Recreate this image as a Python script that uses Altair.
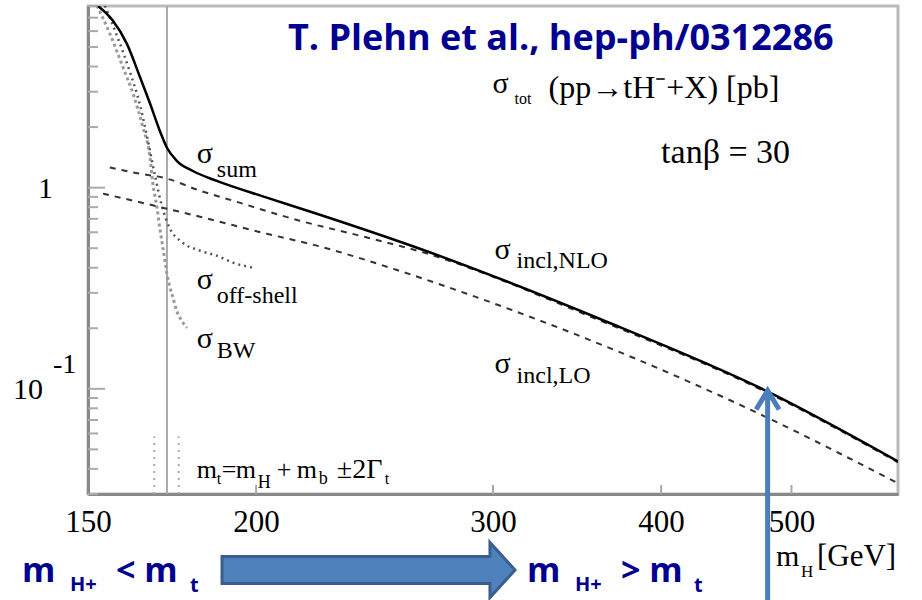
import altair as alt
import pandas as pd

# ---------------- data ----------------
mh_sum = [152.6, 156.5, 160.3, 164.0, 166.8, 169.6, 171.7, 174.6, 179.5, 187.0, 203.7, 221.9, 264.7, 360.0, 478.9, 600.0]
sig_sum = [8.0, 6.77, 5.20, 3.53, 2.62, 1.92, 1.58, 1.36, 1.21, 1.08, 0.892, 0.742, 0.497, 0.223, 0.0977, 0.0436]

mh_nlo = [155.7, 162.0, 171.7, 181.7, 192.2, 215.5, 238.8, 264.7, 360.0, 478.9, 600.0]
sig_nlo = [1.26, 1.19, 1.109, 0.966, 0.862, 0.685, 0.577, 0.482, 0.219, 0.0963, 0.0431]

mh_lo = [153.9, 171.7, 181.7, 203.7, 221.9, 255.6, 286.8, 370.6, 473.2, 600.0]
sig_lo = [0.934, 0.786, 0.717, 0.590, 0.515, 0.386, 0.297, 0.1545, 0.0751, 0.0339]

mh_off = [154.4, 157.6, 161.2, 164.0, 166.2, 168.2, 170.2, 172.6, 175.6, 181.7, 187.0, 192.2, 198.9]
sig_off = [8.04, 5.70, 3.74, 2.56, 1.71, 1.15, 0.814, 0.625, 0.545, 0.486, 0.459, 0.424, 0.400]

mh_bw = [152.3, 155.7, 159.3, 162.0, 164.8, 166.8, 167.6, 168.8, 169.6, 170.5, 171.1, 171.7, 172.6, 173.5, 174.6, 176.1, 177.7]
sig_bw = [8.04, 5.84, 3.95, 2.94, 1.99, 1.41, 1.05, 0.795, 0.632, 0.503, 0.433, 0.373, 0.318, 0.284, 0.244, 0.218, 0.201]

threshold_mh = [171.7]
band_mh = [168.0, 175.2]
band_sig = [0.03, 0.058]

x_tick_values = [150, 200, 300, 400, 500]
y_minor_ticks = [0.03, 0.04, 0.05, 0.06, 0.07, 0.08, 0.09, 0.2, 0.3, 0.4, 0.5, 0.6, 0.7, 0.8, 0.9,
                 2, 3, 4, 5, 6, 7, 8]
y_major_ticks = [0.1, 1]

arrow_mh = [480]
arrow_sig = [0.098]

X_DOM = [150, 600]
Y_DOM = [0.03, 8]
W, H = 810, 488
SERIF = "Liberation Serif"
SANS = "Open Sans"
NAVY = "#000090"
BLUE = "#4A7EBB"

xs = alt.Scale(type="log", domain=X_DOM, nice=False)
ys = alt.Scale(type="log", domain=Y_DOM, nice=False)
x_axis = alt.Axis(values=x_tick_values, title=None, grid=False, ticks=False, tickSize=0,
                  labelFont=SERIF, labelFontSize=31, labelColor="black", labelPadding=13,
                  labelFlush=False, labelOverlap=False, domainColor="#888888", domainWidth=3,
                  format="d")
y_axis = alt.Axis(labels=False, ticks=False, tickSize=0, title=None, grid=False,
                  domainColor="#888888", domainWidth=3)

X = lambda f: alt.X(f, scale=xs, axis=x_axis)
Y = lambda f: alt.Y(f, scale=ys, axis=y_axis)
dummy = pd.DataFrame({"a": [0]})


def curve(mh, sig, color, width, dash=None):
    df = pd.DataFrame({"mh": mh, "sig": sig, "i": list(range(len(mh)))})
    kw = dict(color=color, strokeWidth=width, clip=True, interpolate="monotone")
    if dash:
        kw["strokeDash"] = dash
    return alt.Chart(df).mark_line(**kw).encode(x=X("mh:Q"), y=Y("sig:Q"), order="i:Q")


def dtxt(text, mh, sig, size, dx=0, dy=0, font=SERIF, align="left", color="black", weight="normal"):
    df = pd.DataFrame({"mh": [mh], "sig": [sig], "t": [text]})
    return alt.Chart(df).mark_text(font=font, fontSize=size, dx=dx, dy=dy, align=align,
                                   baseline="alphabetic", color=color, fontWeight=weight).encode(
        x=X("mh:Q"), y=Y("sig:Q"), text="t:N")


def ptxt(text, px, py, size, font=SANS, align="left", color=NAVY, weight="bold"):
    return alt.Chart(dummy).mark_text(font=font, fontSize=size, align=align, baseline="alphabetic",
                                      color=color, fontWeight=weight).encode(
        x=alt.value(px - 88), y=alt.value(py - 6), text=alt.value(text))


layers = []

# threshold line and band markers
layers.append(alt.Chart(pd.DataFrame({"mh": threshold_mh})).mark_rule(color="#aaaaaa", strokeWidth=2).encode(
    x=X("mh:Q"), y=alt.value(0), y2=alt.value(H)))
layers.append(alt.Chart(pd.DataFrame({"mh": band_mh, "lo": [band_sig[0]] * 2, "hi": [band_sig[1]] * 2}))
              .mark_rule(color="#aaaaaa", strokeWidth=2, strokeDash=[2, 5]).encode(
    x=X("mh:Q"), y=Y("lo:Q"), y2="hi:Q"))

# axis ticks (inward)
layers.append(alt.Chart(pd.DataFrame({"mh": x_tick_values[1:]})).mark_rule(color="#aaaaaa", strokeWidth=2).encode(
    x=X("mh:Q"), y=alt.value(H), y2=alt.value(H - 9)))
layers.append(alt.Chart(pd.DataFrame({"sig": y_minor_ticks})).mark_rule(color="#aaaaaa", strokeWidth=2).encode(
    y=Y("sig:Q"), x=alt.value(0), x2=alt.value(10)))
layers.append(alt.Chart(pd.DataFrame({"sig": y_major_ticks})).mark_rule(color="#aaaaaa", strokeWidth=2).encode(
    y=Y("sig:Q"), x=alt.value(0), x2=alt.value(17)))

# curves
layers.append(curve(mh_bw, sig_bw, "#9a9a9a", 3, [3, 3]))
layers.append(curve(mh_off, sig_off, "#555555", 2.5, [2, 4]))
layers.append(curve(mh_lo, sig_lo, "#333333", 2, [6, 6]))
layers.append(curve(mh_nlo, sig_nlo, "#333333", 2, [6, 6]))
layers.append(curve(mh_sum, sig_sum, "black", 2.5))

# y labels
layers.append(dtxt("1", 150, 1, 30, dx=-35, dy=10, align="right"))
layers.append(dtxt("10", 150, 0.1, 30, dx=-45, dy=10, align="right"))
layers.append(dtxt("-1", 150, 0.1, 28, dx=-35, dy=-16, align="left"))

# curve labels
layers.append(dtxt("σ", 180.7, 1.32, 30))
layers.append(dtxt("sum", 180.7, 1.32, 24, dx=20, dy=14))
layers.append(dtxt("σ", 180.7, 0.314, 30))
layers.append(dtxt("off-shell", 180.7, 0.314, 24, dx=20, dy=14))
layers.append(dtxt("σ", 180.7, 0.160, 30))
layers.append(dtxt("BW", 180.7, 0.160, 24, dx=20, dy=10))
layers.append(dtxt("σ", 300.8, 0.443, 30))
layers.append(dtxt("incl,NLO", 300.8, 0.443, 24, dx=22, dy=9))
layers.append(dtxt("σ", 300.8, 0.120, 30))
layers.append(dtxt("incl,LO", 300.8, 0.120, 24, dx=22, dy=10))

# process label and tan beta
layers.append(dtxt("σ", 299.8, 2.97, 30))
layers.append(dtxt("tot", 299.8, 2.97, 16, dx=22, dy=11))
layers.append(dtxt("(pp→tH⁻+X) [pb]", 299.8, 2.97, 32, dx=56, dy=5))
layers.append(dtxt("tanβ = 30", 400, 1.33, 34))

# m_t = m_H + m_b ± 2 Gamma_t
mt_pieces = [("m", 0, 0, 26), ("t", 20, 6, 16), ("=", 25, 0, 26), ("m", 39, 0, 26), ("H", 61, 10, 18),
             ("+", 80, 0, 26), ("m", 100, 0, 26), ("b", 122, 6, 18), ("±2Γ", 140, 0, 28), ("t", 188, 6, 16)]
for t, dx, dy, s in mt_pieces:
    layers.append(dtxt(t, 180.7, 0.0362, s, dx=dx, dy=dy))

# x axis title
layers.append(ptxt("m", 776, 566, 30, font=SERIF, color="black", weight="normal"))
layers.append(ptxt("H", 801, 577, 17, font=SERIF, color="black", weight="normal"))
layers.append(ptxt("[GeV]", 817, 566, 31, font=SERIF, color="black", weight="normal"))

# title
layers.append(ptxt("T. Plehn et al., hep-ph/0312286", 288, 50, 36))

# bottom annotations
layers.append(ptxt("m", 22, 582, 34))
layers.append(ptxt("H+", 70, 591, 20))
layers.append(ptxt("< m", 116, 582, 34))
layers.append(ptxt("t", 190, 592, 20))
layers.append(ptxt("m", 527, 582, 34))
layers.append(ptxt("H+", 575, 591, 20))
layers.append(ptxt("> m", 621, 582, 34))
layers.append(ptxt("t", 694, 592, 20))

# big horizontal arrow
arrow_path = "M-1,-0.092L0.829,-0.092L0.829,-0.188L1,0L0.829,0.188L0.829,0.092L-1,0.092Z"
layers.append(alt.Chart(dummy).mark_point(shape=arrow_path, size=293 ** 2, filled=True, fill="#4F81BD",
                                          stroke="#3A5F8C", strokeWidth=3, opacity=1).encode(
    x=alt.value(368.5 - 88), y=alt.value(570 - 6)))

# vertical arrow
adf = pd.DataFrame({"mh": arrow_mh, "sig": arrow_sig})
layers.append(alt.Chart(adf).mark_rule(color=BLUE, strokeWidth=5).encode(
    x=X("mh:Q"), y=Y("sig:Q"), y2=alt.value(600 - 6)))
layers.append(alt.Chart(adf).mark_point(shape="M-1,1.65L0,0L1,1.65", size=23 ** 2, filled=False,
                                        color=BLUE, strokeWidth=5, opacity=1).encode(
    x=X("mh:Q"), y=Y("sig:Q")))

chart = alt.layer(*layers).properties(
    width=W, height=H,
    padding={"left": 88, "top": 6, "right": 24, "bottom": 106},
    autosize=alt.AutoSizeParams(type="none"),
    background="white",
).configure_view(stroke="#bbbbbb", strokeWidth=3)

chart.save("out.html", embed_options={"renderer": "svg", "actions": False})
